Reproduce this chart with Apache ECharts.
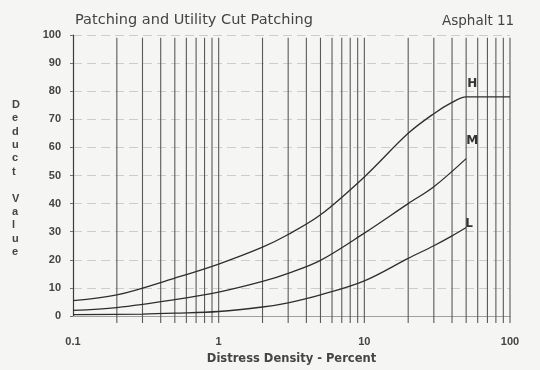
<!DOCTYPE html>
<html>
<head>
<meta charset="utf-8">
<script src="https://cdn.jsdelivr.net/npm/echarts@6/dist/echarts.min.js"></script>
<style>
  html, body { margin: 0; padding: 0; background: #f5f5f3; }
  #chart { width: 540px; height: 370px; }
</style>
</head>
<body>
<div id="chart"></div>
<script>
// Deduct value curves for patching and utility cut patching (asphalt)
const densityH = [0.1, 0.2, 0.5, 1, 2, 3, 5, 10, 20, 30, 40, 50, 100];
const deductH  = [5.5, 7.5, 13.5, 18.5, 24.5, 29, 36, 49.5, 65, 72, 76, 78, 78];

const densityM = [0.1, 0.2, 0.5, 1, 2, 3, 5, 10, 20, 30, 50];
const deductM  = [2, 3, 5.8, 8.5, 12.3, 15.2, 19.8, 29.5, 40, 46, 56];

const densityL = [0.1, 0.3, 0.5, 1, 2, 3, 5, 10, 20, 30, 40, 50];
const deductL  = [0.5, 0.7, 1, 1.6, 3.2, 4.7, 7.5, 12.5, 20.5, 25, 28.5, 31.5];

const severityNames = ['H', 'M', 'L'];
const xTickLabels = ['0.1', '1', '10', '100'];

// log-paper vertical rulings: 1..9 in each decade
const verticalRulings = [
  0.2, 0.3, 0.4, 0.5, 0.6, 0.7, 0.8, 0.9, 1,
  2, 3, 4, 5, 6, 7, 8, 9, 10,
  20, 30, 40, 50, 60, 70, 80, 90, 100
];

const font = '"DejaVu Sans", "Liberation Sans", sans-serif';
const tickFont = '"Liberation Sans", Arial, sans-serif';

function pairs(xs, ys) { return xs.map((x, i) => [x, ys[i]]); }

function curve(name, xs, ys, labelIndex, labelOffset) {
  const data = pairs(xs, ys).map((p, i) => {
    if (i !== labelIndex) return p;
    return {
      value: p,
      label: {
        show: true,
        formatter: name,
        position: 'top',
        offset: labelOffset,
        color: '#333',
        fontSize: 12,
        fontWeight: 'bold',
        fontFamily: font
      }
    };
  });
  return {
    name: name,
    type: 'line',
    smooth: 0.35,
    symbol: 'circle',
    symbolSize: 0,
    showSymbol: true,
    lineStyle: { color: '#2e2e2e', width: 1.3 },
    itemStyle: { color: '#2e2e2e' },
    label: { show: false },
    emphasis: { disabled: true },
    silent: true,
    data: data,
    z: 5
  };
}

// one thin series per ruling, from just below 0 up to the top of the chart
function ruling(v) {
  return {
    type: 'line',
    silent: true,
    clip: false,
    symbol: 'none',
    lineStyle: { color: '#5a5a5a', width: 1.1 },
    emphasis: { disabled: true },
    data: [[v, -2.5], [v, 99]],
    z: 2
  };
}

const chart = echarts.init(document.getElementById('chart'), null, { renderer: 'canvas' });

chart.setOption({
  backgroundColor: '#f5f5f3',
  animation: false,
  grid: { left: 73, right: 30, top: 35, bottom: 52 },
  xAxis: {
    type: 'log',
    logBase: 10,
    min: 0.1,
    max: 100,
    name: 'Distress Density - Percent',
    nameLocation: 'middle',
    nameGap: 37,
    nameTextStyle: { color: '#444', fontSize: 11.5, fontWeight: 'bold', fontFamily: font },
    axisLine: { show: true, lineStyle: { color: '#a0a0a0', width: 1 } },
    axisTick: { show: false },
    splitLine: { show: false },
    axisLabel: {
      color: '#444',
      fontSize: 11,
      fontWeight: 'bold',
      fontFamily: tickFont,
      margin: 20,
      formatter: v => {
        const s = String(+v.toPrecision(3));
        return xTickLabels.includes(s) ? s : '';
      }
    }
  },
  yAxis: {
    type: 'value',
    min: 0,
    max: 100,
    interval: 10,
    axisLine: { show: true, lineStyle: { color: '#3c3c3c', width: 1.2 } },
    axisTick: { show: true, length: 3, lineStyle: { color: '#777' } },
    axisLabel: {
      color: '#444',
      fontSize: 11,
      fontWeight: 'bold',
      fontFamily: tickFont,
      margin: 12
    },
    splitLine: { show: true, lineStyle: { color: '#cdcdcd', width: 1, type: [9, 5] } }
  },
  title: [
    {
      text: 'Patching and Utility Cut Patching',
      left: 70, top: 8,
      textStyle: { color: '#444', fontSize: 14.5, fontWeight: 'normal', fontFamily: font }
    },
    {
      text: 'Asphalt 11',
      left: 437, top: 9,
      textStyle: { color: '#444', fontSize: 13.5, fontWeight: 'normal', fontFamily: font }
    }
  ],
  graphic: [
    {
      type: 'text',
      left: 12,
      top: 98,
      style: {
        text: 'D\ne\nd\nu\nc\nt\n\nV\na\nl\nu\ne',
        fill: '#444',
        font: 'bold 11px ' + tickFont,
        lineHeight: 13.4,
        align: 'center',
        width: 12
      }
    }
  ],
  series: verticalRulings.map(ruling).concat([
    curve(severityNames[0], densityH, deductH, 11, [6, -2]),
    curve(severityNames[1], densityM, deductM, 10, [6, -7]),
    curve(severityNames[2], densityL, deductL, 11, [3, 7])
  ])
});
</script>
</body>
</html>
